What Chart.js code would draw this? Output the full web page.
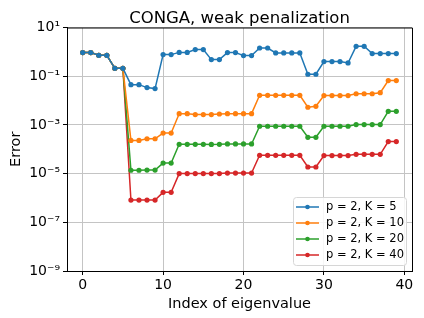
<!DOCTYPE html>
<html>
<head>
<meta charset="utf-8">
<script src="https://cdn.jsdelivr.net/npm/chart.js@4.4.1/dist/chart.umd.min.js"></script>
<style>
  html, body { margin: 0; padding: 0; background: #fff; }
  #wrap { width: 424px; height: 318px; }
</style>
</head>
<body>
<div id="wrap"><canvas id="chart" width="424" height="318"></canvas></div>
<script>
  // Eigenvalue index (x) and error per series (y)
  const eigIndex = [0, 1, 2, 3, 4, 5, 6, 7, 8, 9, 10, 11, 12, 13, 14, 15, 16, 17, 18, 19,
                    20, 21, 22, 23, 24, 25, 26, 27, 28, 29, 30, 31, 32, 33, 34, 35, 36, 37, 38, 39];

  const errK5 = [0.93, 0.93, 0.72, 0.72, 0.21, 0.21, 0.045, 0.045, 0.034, 0.031,
                 0.77, 0.77, 0.95, 0.95, 1.24, 1.24, 0.48, 0.48, 0.93, 0.93,
                 0.70, 0.70, 1.44, 1.44, 0.90, 0.90, 0.90, 0.90, 0.12, 0.12,
                 0.40, 0.40, 0.40, 0.35, 1.69, 1.69, 0.85, 0.85, 0.85, 0.85];

  const errK10 = [0.93, 0.93, 0.72, 0.72, 0.21, 0.21, 2.3e-4, 2.3e-4, 2.7e-4, 2.7e-4,
                  4.6e-4, 4.6e-4, 2.9e-3, 2.9e-3, 2.65e-3, 2.65e-3, 2.65e-3, 2.8e-3, 2.9e-3, 2.9e-3,
                  2.9e-3, 2.9e-3, 0.0164, 0.0164, 0.0164, 0.0164, 0.0164, 0.0164, 5.3e-3, 5.8e-3,
                  0.016, 0.016, 0.016, 0.016, 0.019, 0.019, 0.019, 0.021, 0.066, 0.066];

  const errK20 = [0.93, 0.93, 0.72, 0.72, 0.21, 0.21, 1.37e-5, 1.37e-5, 1.4e-5, 1.4e-5,
                  2.7e-5, 2.7e-5, 1.6e-4, 1.6e-4, 1.6e-4, 1.6e-4, 1.58e-4, 1.6e-4, 1.65e-4, 1.65e-4,
                  1.65e-4, 1.65e-4, 8.8e-4, 8.8e-4, 8.8e-4, 8.8e-4, 8.8e-4, 8.8e-4, 3.1e-4, 3.1e-4,
                  8.8e-4, 8.8e-4, 8.8e-4, 8.8e-4, 1.03e-3, 1.03e-3, 1.03e-3, 1.03e-3, 3.6e-3, 3.6e-3];

  const errK40 = [0.93, 0.93, 0.72, 0.72, 0.21, 0.21, 8.2e-7, 8.2e-7, 8.2e-7, 8.2e-7,
                  1.7e-6, 1.7e-6, 1.0e-5, 1.0e-5, 1.0e-5, 1.0e-5, 1.0e-5, 1.0e-5, 1.05e-5, 1.05e-5,
                  1.05e-5, 1.05e-5, 5.65e-5, 5.65e-5, 5.65e-5, 5.65e-5, 5.65e-5, 5.65e-5, 1.87e-5, 1.87e-5,
                  5.5e-5, 5.5e-5, 5.5e-5, 5.5e-5, 6.2e-5, 6.2e-5, 6.2e-5, 6.2e-5, 2.06e-4, 2.06e-4];

  const seriesLabels = ['p = 2, K = 5', 'p = 2, K = 10', 'p = 2, K = 20', 'p = 2, K = 40'];
  const seriesColors = ['#1f77b4', '#ff7f0e', '#2ca02c', '#d62728'];

  // Axis ticks
  const xTicks = [0, 10, 20, 30, 40];
  const yTicks = [10, 1e-1, 1e-3, 1e-5, 1e-7, 1e-9];
  const yTickLabels = ['10¹', '10⁻¹', '10⁻³', '10⁻⁵', '10⁻⁷', '10⁻⁹'];

  const chartTitle = 'CONGA, weak penalization';
  const FONT = "'DejaVu Sans', sans-serif";

  function toPoints(ys) {
    return eigIndex.map((x, i) => ({ x: x, y: ys[i] }));
  }

  const allSeries = [errK5, errK10, errK20, errK40];

  const datasets = allSeries.map((ys, i) => ({
    label: seriesLabels[i],
    data: toPoints(ys),
    borderColor: seriesColors[i],
    backgroundColor: seriesColors[i],
    borderWidth: 1.5,
    pointRadius: 2.6,
    pointBorderWidth: 0,
    pointBackgroundColor: seriesColors[i],
    tension: 0,
    fill: false
  }));

  // Top/right spines plus the title centred over the plot area
  const frameBox = {
    id: 'frameBox',
    afterDatasetsDraw(chart) {
      const { ctx, chartArea: a } = chart;
      ctx.save();
      ctx.strokeStyle = '#000';
      ctx.lineWidth = 1;
      ctx.beginPath();
      ctx.moveTo(a.left, a.top + 0.5);
      ctx.lineTo(a.right + 0.5, a.top + 0.5);
      ctx.lineTo(a.right + 0.5, a.bottom);
      ctx.stroke();

      ctx.fillStyle = '#000';
      ctx.font = '16.5px ' + FONT;
      ctx.textAlign = 'center';
      ctx.textBaseline = 'alphabetic';
      ctx.fillText(chartTitle, (a.left + a.right) / 2, a.top - 5);
      ctx.restore();
    }
  };

  // Legend inside the plot, lower right (matplotlib style)
  const insideLegend = {
    id: 'insideLegend',
    afterDraw(chart) {
      const { ctx, chartArea: a } = chart;
      const sets = chart.data.datasets;
      const rowH = 16;
      const boxW = 113;
      const boxH = sets.length * rowH + 4;
      const x0 = a.right - 6 - boxW;
      const y0 = a.bottom - 6 - boxH;
      ctx.save();
      ctx.fillStyle = 'rgba(255,255,255,0.85)';
      ctx.strokeStyle = '#d6d6d6';
      ctx.lineWidth = 1;
      ctx.beginPath();
      ctx.roundRect(x0 + 0.5, y0 + 0.5, boxW, boxH, 3);
      ctx.fill();
      ctx.stroke();
      ctx.font = '11.5px ' + FONT;
      ctx.textBaseline = 'middle';
      sets.forEach((ds, i) => {
        const cy = y0 + 10 + i * rowH;
        ctx.strokeStyle = ds.borderColor;
        ctx.lineWidth = 1.5;
        ctx.beginPath();
        ctx.moveTo(x0 + 3, cy);
        ctx.lineTo(x0 + 26, cy);
        ctx.stroke();
        ctx.fillStyle = ds.borderColor;
        ctx.beginPath();
        ctx.arc(x0 + 14.5, cy, 2.3, 0, Math.PI * 2);
        ctx.fill();
        ctx.fillStyle = '#000';
        ctx.fillText(ds.label, x0 + 33, cy + 0.5);
      });
      ctx.restore();
    }
  };

  new Chart(document.getElementById('chart').getContext('2d'), {
    type: 'line',
    data: { datasets: datasets },
    options: {
      responsive: false,
      animation: false,
      layout: { padding: { left: 0, right: 12, top: 27.5, bottom: 0 } },
      plugins: {
        legend: { display: false },
        tooltip: { enabled: false },
        title: { display: false }
      },
      scales: {
        x: {
          type: 'linear',
          min: -1.95,
          max: 40.95,
          afterBuildTicks(scale) {
            scale.ticks = xTicks.map(v => ({ value: v }));
          },
          afterFit(scale) {
            scale.height = 47;
          },
          ticks: {
            color: '#000',
            font: { family: FONT, size: 14 },
            padding: 2,
            maxRotation: 0
          },
          grid: {
            color: '#c4c4c4',
            lineWidth: 1,
            tickColor: '#000',
            tickLength: 4
          },
          border: { color: '#000', width: 1 },
          title: {
            display: true,
            text: 'Index of eigenvalue',
            color: '#000',
            font: { family: FONT, size: 14.5 },
            padding: { top: 0, bottom: 5 }
          }
        },
        y: {
          type: 'logarithmic',
          min: 1e-9,
          max: 10,
          afterBuildTicks(scale) {
            scale.ticks = yTicks.map(v => ({ value: v }));
          },
          afterFit(scale) {
            scale.width = 67;
          },
          ticks: {
            color: '#000',
            font: { family: FONT, size: 14 },
            padding: 3,
            callback: function(value) {
              const idx = yTicks.findIndex(t => Math.abs(Math.log10(t) - Math.log10(value)) < 1e-6);
              return idx >= 0 ? yTickLabels[idx] : '';
            }
          },
          grid: {
            color: '#c4c4c4',
            lineWidth: 1,
            tickColor: '#000',
            tickLength: 4
          },
          border: { color: '#000', width: 1 },
          title: {
            display: true,
            text: 'Error',
            color: '#000',
            font: { family: FONT, size: 14.5 },
            padding: { top: 8, bottom: 0 }
          }
        }
      }
    },
    plugins: [frameBox, insideLegend]
  });
</script>
</body>
</html>
